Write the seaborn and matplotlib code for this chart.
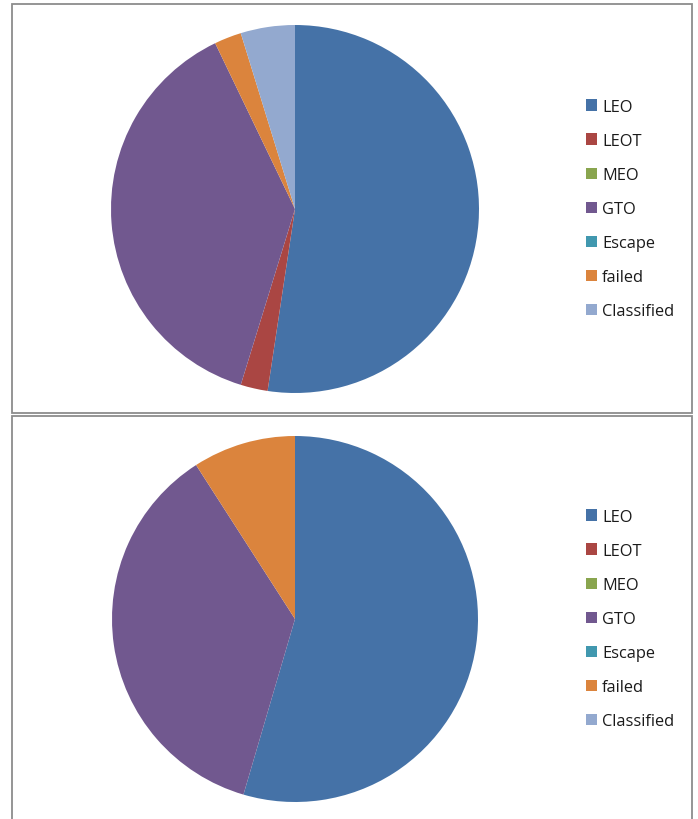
import matplotlib
matplotlib.use("Agg")
import matplotlib.pyplot as plt
import seaborn as sns
from matplotlib.patches import Rectangle, Patch

# orbit categories and launch counts for the two charts
labels = ["LEO", "LEOT", "MEO", "GTO", "Escape", "failed", "Classified"]
top_counts = [22, 1, 0, 16, 0, 1, 2]
bottom_counts = [6, 0, 0, 4, 0, 1, 0]
colors = ["#4572A7", "#AA4643", "#89A54E", "#71588F", "#4198AF", "#DB843D", "#93A9CF"]

sns.set_theme(style="white")
plt.rcParams['font.family'] = ['Open Sans', 'DejaVu Sans']
plt.rcParams['text.color'] = '#1a1a1a'
palette = sns.color_palette(colors)

W, H = 698, 820
fig = plt.figure(figsize=(W / 100, H / 100), dpi=100)


def px_rect(x0, y0, x1, y1):
    return [x0 / W, 1 - y1 / H, (x1 - x0) / W, (y1 - y0) / H]


# panel borders
for y0, y1 in [(5, 413.5), (416.5, 830)]:
    fig.patches.append(Rectangle((12 / W, 1 - y1 / H), 680 / W, (y1 - y0) / H,
                                 transform=fig.transFigure, fill=False,
                                 edgecolor="#8c8c8c", linewidth=1.3))


def draw_pie(counts, box, legend_y):
    ax = fig.add_axes(px_rect(*box))
    ax.pie(counts, colors=palette, startangle=90, counterclock=False,
           radius=1, wedgeprops=dict(linewidth=0))
    ax.set_xlim(-1, 1)
    ax.set_ylim(-1, 1)
    ax.set_aspect("equal")
    ax.axis("off")
    handles = [Patch(facecolor=c, edgecolor="none") for c in palette]
    fig.legend(handles, labels, loc="center left",
               bbox_to_anchor=(579 / W, 1 - legend_y / H), frameon=False,
               fontsize=11.8, handlelength=0.7, handleheight=0.7,
               handletextpad=0.3, labelspacing=1.1, borderaxespad=0)


draw_pie(top_counts, (111, 26, 479, 394), 210)
draw_pie(bottom_counts, (112, 437, 478, 803), 620)

fig.savefig("out.png", dpi=100)
